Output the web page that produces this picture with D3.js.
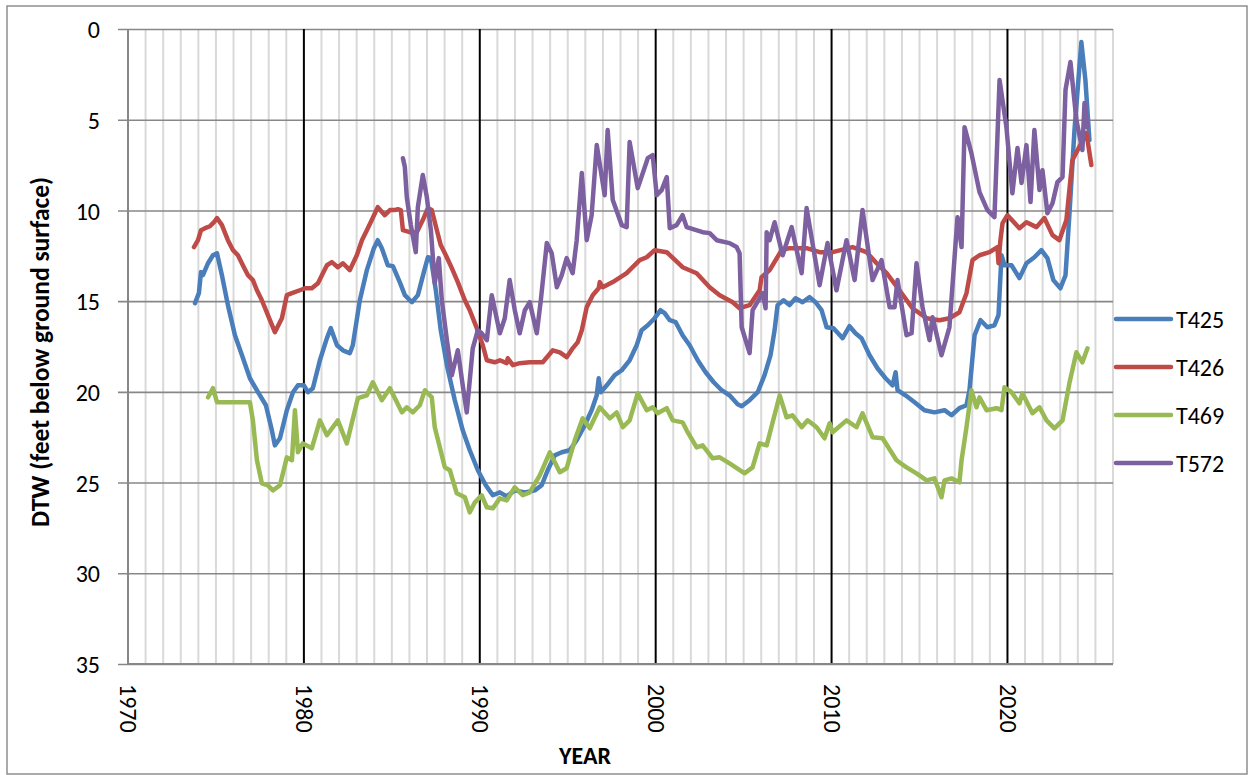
<!DOCTYPE html>
<html><head><meta charset="utf-8">
<script src="https://cdn.jsdelivr.net/npm/d3@7/dist/d3.min.js"></script>
<style>body{margin:0;background:#fff}svg{display:block}text{font-family:Carlito,Calibri,Lato,sans-serif}</style>
</head><body><svg id="c" width="1253" height="775"></svg>
<script>
const seriesNames = ["T425","T426","T469","T572"];
const seriesColors = ["#4A7EBB","#BE4B48","#98B954","#7D60A0"];
const yTicks = [0,5,10,15,20,25,30,35];
const xTicks = [1970,1980,1990,2000,2010,2020];

const T425 = [[1973.81,15.11],[1974.03,14.56],[1974.15,13.4],[1974.26,13.57],[1974.55,12.91],[1974.83,12.47],[1975.06,12.36],[1975.34,13.57],[1975.68,15.22],[1976.08,16.88],[1976.48,17.98],[1976.93,19.25],[1977.39,20.02],[1977.84,20.74],[1978.18,22.12],[1978.35,22.95],[1978.64,22.56],[1979.03,21.01],[1979.38,20.02],[1979.66,19.64],[1980.0,19.64],[1980.23,20.02],[1980.51,19.8],[1980.91,18.26],[1981.31,17.04],[1981.53,16.49],[1981.88,17.43],[1982.22,17.71],[1982.61,17.87],[1982.78,17.43],[1983.18,14.95],[1983.58,13.29],[1983.98,12.08],[1984.2,11.64],[1984.43,12.08],[1984.77,13.02],[1985.06,13.07],[1985.45,13.95],[1985.74,14.67],[1986.14,15.06],[1986.48,14.67],[1986.82,13.4],[1987.05,12.58],[1987.22,12.63],[1987.5,14.4],[1987.78,16.6],[1988.13,18.53],[1988.58,20.46],[1989.03,22.12],[1989.43,23.22],[1989.89,24.32],[1990.34,25.15],[1990.74,25.7],[1991.14,25.54],[1991.53,25.76],[1991.99,25.43],[1992.56,25.54],[1993.13,25.43],[1993.52,25.15],[1993.86,24.32],[1994.26,23.5],[1994.66,23.33],[1995.11,23.22],[1995.51,22.67],[1995.97,21.84],[1996.36,21.01],[1996.65,20.19],[1996.76,19.25],[1996.88,20.02],[1997.22,19.64],[1997.67,19.08],[1998.07,18.81],[1998.52,18.26],[1998.92,17.43],[1999.2,16.6],[1999.55,16.33],[1999.94,15.94],[2000.28,15.5],[2000.51,15.66],[2000.8,16.05],[2001.14,16.16],[2001.53,16.88],[2001.93,17.43],[2002.39,18.26],[2002.84,18.92],[2003.3,19.47],[2003.75,19.91],[2004.2,20.19],[2004.66,20.68],[2004.89,20.79],[2005.34,20.46],[2005.8,20.02],[2006.19,19.08],[2006.53,17.98],[2006.76,16.6],[2006.93,15.22],[2007.27,14.95],[2007.61,15.22],[2007.95,14.84],[2008.35,15.06],[2008.75,14.78],[2009.09,15.06],[2009.43,15.5],[2009.72,16.44],[2010.11,16.49],[2010.63,17.04],[2011.02,16.38],[2011.36,16.77],[2011.7,17.04],[2012.16,17.98],[2012.61,18.7],[2013.07,19.25],[2013.47,19.64],[2013.64,18.92],[2013.75,19.91],[2014.2,20.19],[2014.72,20.57],[2015.28,21.01],[2015.85,21.13],[2016.42,21.01],[2016.82,21.29],[2017.27,20.9],[2017.67,20.74],[2017.84,19.91],[2018.13,16.88],[2018.47,16.05],[2018.86,16.44],[2019.26,16.33],[2019.49,15.77],[2019.66,12.47],[2019.83,13.02],[2020.23,13.02],[2020.68,13.73],[2021.08,12.91],[2021.53,12.58],[2021.93,12.19],[2022.27,12.63],[2022.61,13.84],[2023.01,14.29],[2023.3,13.57],[2023.52,10.26],[2023.81,5.57],[2024.2,0.72],[2024.43,2.81],[2024.66,6.12]];

const T426 = [[1973.75,12.02],[1973.98,11.64],[1974.15,11.09],[1974.38,10.98],[1974.66,10.87],[1974.89,10.65],[1975.06,10.42],[1975.34,10.81],[1975.68,11.64],[1975.97,12.19],[1976.25,12.47],[1976.53,13.02],[1976.82,13.57],[1977.1,13.84],[1977.33,14.4],[1977.61,14.95],[1977.84,15.5],[1978.07,16.05],[1978.35,16.71],[1978.75,15.94],[1979.03,14.67],[1979.32,14.56],[1979.77,14.4],[1980.06,14.29],[1980.45,14.29],[1980.8,14.01],[1981.08,13.46],[1981.31,13.02],[1981.59,12.85],[1981.93,13.13],[1982.22,12.91],[1982.61,13.29],[1983.01,12.47],[1983.3,11.64],[1983.58,11.09],[1983.86,10.53],[1984.2,9.82],[1984.6,10.26],[1984.89,9.98],[1985.17,9.98],[1985.34,9.93],[1985.51,9.98],[1985.63,11.09],[1986.02,11.2],[1986.42,11.2],[1986.76,10.53],[1987.05,9.87],[1987.27,9.98],[1987.56,11.09],[1987.78,11.91],[1988.07,12.47],[1988.41,13.18],[1988.75,13.95],[1989.15,14.95],[1989.43,15.5],[1989.83,16.49],[1990.17,17.43],[1990.4,18.26],[1990.85,18.37],[1991.14,18.26],[1991.53,18.42],[1991.59,18.15],[1991.88,18.53],[1992.27,18.42],[1992.84,18.37],[1993.58,18.37],[1994.15,17.71],[1994.55,17.82],[1994.94,18.09],[1995.28,17.6],[1995.57,17.26],[1995.8,16.6],[1996.08,15.33],[1996.42,14.67],[1996.76,14.29],[1996.82,13.95],[1996.99,14.23],[1997.56,13.95],[1998.35,13.46],[1999.09,12.74],[1999.49,12.58],[1999.94,12.19],[2000.63,12.3],[2001.53,13.13],[2002.33,13.46],[2003.07,14.23],[2003.64,14.67],[2004.38,15.06],[2004.77,15.39],[2005.34,15.22],[2005.91,14.4],[2006.02,13.68],[2006.48,13.29],[2007.16,12.19],[2007.61,12.08],[2008.58,12.08],[2009.32,12.3],[2010.06,12.3],[2011.19,12.02],[2011.99,12.3],[2012.56,12.91],[2013.13,13.46],[2013.86,14.4],[2014.6,15.39],[2015.4,15.94],[2016.14,16.05],[2016.7,15.94],[2017.27,15.61],[2017.67,14.56],[2018.01,12.74],[2018.41,12.47],[2018.98,12.3],[2019.43,12.02],[2019.49,12.91],[2019.6,11.64],[2019.72,10.7],[2020.0,10.26],[2020.68,10.98],[2021.08,10.65],[2021.65,10.92],[2022.1,10.42],[2022.56,11.36],[2022.95,11.64],[2023.35,10.53],[2023.69,7.23],[2024.49,5.74],[2024.77,7.5]];

const T469 = [[1974.55,20.3],[1974.83,19.8],[1975.06,20.57],[1976.93,20.57],[1977.1,21.57],[1977.33,23.77],[1977.61,25.04],[1977.95,25.15],[1978.24,25.43],[1978.64,25.15],[1979.03,23.61],[1979.32,23.77],[1979.49,21.01],[1979.66,23.33],[1979.94,22.84],[1980.45,23.11],[1980.91,21.57],[1981.31,22.39],[1981.93,21.57],[1982.44,22.84],[1983.07,20.35],[1983.58,20.19],[1983.92,19.47],[1984.43,20.46],[1984.89,19.8],[1985.57,21.13],[1985.85,20.85],[1986.19,21.13],[1986.59,20.74],[1986.88,19.91],[1987.27,20.3],[1987.44,21.95],[1987.73,23.06],[1988.01,24.16],[1988.3,24.32],[1988.69,25.59],[1989.15,25.81],[1989.43,26.64],[1989.72,26.09],[1990.11,25.7],[1990.4,26.36],[1990.74,26.42],[1991.14,25.87],[1991.53,25.98],[1991.99,25.26],[1992.44,25.7],[1992.84,25.54],[1993.41,24.6],[1993.98,23.33],[1994.55,24.43],[1994.94,24.21],[1995.4,22.67],[1995.85,21.46],[1996.25,22.01],[1996.82,20.85],[1997.39,21.46],[1997.78,21.13],[1998.13,21.95],[1998.52,21.57],[1998.98,20.08],[1999.49,21.01],[1999.83,20.85],[2000.11,21.18],[2000.63,20.9],[2000.97,21.57],[2001.53,21.68],[2001.76,22.12],[2002.33,23.06],[2002.67,22.95],[2003.24,23.66],[2003.64,23.61],[2004.2,23.94],[2005.06,24.49],[2005.51,24.16],[2005.91,22.84],[2006.31,22.95],[2007.05,20.19],[2007.44,21.4],[2007.78,21.29],[2008.3,21.95],[2008.64,21.57],[2009.15,21.95],[2009.6,22.56],[2009.89,21.73],[2010.06,22.23],[2010.85,21.57],[2011.42,21.95],[2011.76,21.18],[2012.33,22.5],[2012.9,22.56],[2013.69,23.77],[2014.26,24.16],[2014.83,24.49],[2015.4,24.88],[2015.85,24.77],[2016.25,25.81],[2016.42,24.88],[2016.82,24.77],[2017.16,24.93],[2017.27,24.99],[2017.39,23.77],[2017.67,21.95],[2017.95,19.91],[2018.24,20.85],[2018.41,20.3],[2018.81,21.01],[2019.38,20.9],[2019.66,21.01],[2019.83,19.75],[2020.23,20.02],[2020.68,20.63],[2020.85,20.08],[2021.42,21.18],[2021.82,20.85],[2022.22,21.57],[2022.67,22.01],[2023.13,21.57],[2023.52,19.53],[2023.92,17.82],[2024.26,18.37],[2024.55,17.6]];

const T572 = [[1985.63,7.12],[1985.74,7.61],[1985.85,9.27],[1986.08,10.81],[1986.36,12.3],[1986.48,9.82],[1986.76,8.05],[1986.99,9.27],[1987.22,11.09],[1987.44,14.01],[1987.67,12.63],[1987.84,14.95],[1988.13,17.15],[1988.41,19.08],[1988.75,17.71],[1989.03,19.64],[1989.26,21.13],[1989.6,17.6],[1989.89,16.6],[1990.11,16.77],[1990.4,17.15],[1990.68,14.67],[1991.14,16.77],[1991.42,15.94],[1991.7,13.84],[1991.99,15.5],[1992.27,16.77],[1992.56,15.5],[1992.84,15.06],[1993.24,16.77],[1993.47,14.95],[1993.81,11.8],[1994.09,12.36],[1994.38,14.23],[1994.66,13.57],[1994.94,12.63],[1995.28,13.46],[1995.51,11.64],[1995.8,7.94],[1996.08,11.64],[1996.36,10.26],[1996.65,6.4],[1997.1,9.16],[1997.27,5.57],[1997.56,9.43],[1998.07,10.81],[1998.35,10.92],[1998.52,6.23],[1998.98,8.77],[1999.55,7.12],[1999.83,6.95],[2000.06,9.16],[2000.34,8.88],[2000.63,8.16],[2000.8,10.98],[2001.19,10.81],[2001.53,10.26],[2001.76,10.92],[2002.67,11.2],[2003.07,11.25],[2003.47,11.64],[2004.2,11.8],[2004.6,12.02],[2004.77,12.36],[2004.89,16.44],[2005.34,17.87],[2005.51,15.5],[2006.08,14.56],[2006.25,15.39],[2006.31,11.2],[2006.48,11.64],[2006.76,10.65],[2007.22,12.47],[2007.73,10.92],[2008.3,13.46],[2008.58,9.87],[2009.32,14.12],[2009.77,11.8],[2010.28,14.4],[2010.85,11.64],[2011.31,13.84],[2011.76,9.98],[2012.33,13.84],[2012.84,12.74],[2013.3,15.33],[2013.58,15.33],[2013.75,13.84],[2014.26,16.88],[2014.55,16.77],[2014.83,12.91],[2015.17,15.33],[2015.57,17.15],[2015.74,15.89],[2016.25,17.98],[2016.7,16.44],[2017.16,10.37],[2017.39,12.02],[2017.56,5.41],[2017.95,6.84],[2018.41,8.99],[2018.86,9.98],[2019.26,10.37],[2019.55,2.81],[2019.94,5.41],[2020.28,9.05],[2020.57,6.56],[2020.8,8.49],[2021.08,6.4],[2021.31,9.54],[2021.53,5.57],[2021.82,8.88],[2021.99,7.78],[2022.27,10.15],[2022.56,9.6],[2022.84,8.44],[2023.13,8.16],[2023.3,3.36],[2023.58,1.82],[2023.92,5.02],[2024.26,6.67],[2024.38,4.08],[2024.55,5.41]];

const allSeries = [T425, T426, T469, T572];

const svg = d3.select("#c");
const L = 128, R = 1113, T = 29, B = 664;
const x = d3.scaleLinear().domain([1970, 2026]).range([L, R]);
const y = d3.scaleLinear().domain([0, 35]).range([T, B]);

// outer border
svg.append("rect").attr("x",7).attr("y",6).attr("width",1240).attr("height",768)
  .attr("fill","#fff").attr("stroke","#8e8e8e").attr("stroke-width",1.5);

// minor vertical gridlines (each year)
const years = d3.range(1971, 2027).filter(v => v % 10 !== 0);
svg.append("g").selectAll("line").data(years).join("line")
  .attr("x1", d => x(d)).attr("x2", d => x(d)).attr("y1", T).attr("y2", B)
  .attr("stroke", "#d9d9d9").attr("stroke-width", 2);

// horizontal gridlines + y axis
const yAxis = d3.axisLeft(y).tickValues(yTicks).tickSize(R - L + 10).tickPadding(18).tickFormat(d3.format("d"));
const gy = svg.append("g").attr("transform", `translate(${R},0)`).call(yAxis);
gy.select(".domain").remove();
gy.selectAll(".tick line").attr("stroke", "#878787").attr("stroke-width", 1.6);
gy.selectAll(".tick text").attr("font-size", 24).attr("fill", "#000").attr("dy","0.36em");

// major vertical gridlines
svg.append("g").selectAll("line").data(xTicks.filter(d => d > 1970)).join("line")
  .attr("x1", d => x(d)).attr("x2", d => x(d)).attr("y1", T).attr("y2", B)
  .attr("stroke", "#000").attr("stroke-width", 2);

// axes lines
svg.append("line").attr("x1", L).attr("x2", L).attr("y1", T).attr("y2", B).attr("stroke", "#878787").attr("stroke-width", 2);
svg.append("line").attr("x1", L).attr("x2", R).attr("y1", B).attr("y2", B).attr("stroke", "#878787").attr("stroke-width", 2);

// x tick labels (rotated)
const xAxis = d3.axisBottom(x).tickValues(xTicks).tickSize(0).tickFormat(d3.format("d"));
const gx = svg.append("g").attr("transform", `translate(0,${B})`).call(xAxis);
gx.select(".domain").remove();
gx.selectAll(".tick text").attr("font-size", 24).attr("fill", "#000")
  .attr("text-anchor", "start").attr("transform", "rotate(90)")
  .attr("x", 20).attr("y", 0).attr("dy", "0.35em");

// series lines
const line = d3.line().x(d => x(d[0])).y(d => y(d[1]));
svg.append("g").selectAll("path").data(allSeries).join("path")
  .attr("d", line).attr("fill", "none")
  .attr("stroke", (d, i) => seriesColors[i]).attr("stroke-width", 4.5)
  .attr("stroke-linejoin", "round").attr("stroke-linecap", "round");

// axis titles
svg.append("text").attr("x", 585).attr("y", 764).attr("text-anchor", "middle")
  .attr("font-size", 24).attr("font-weight", "bold").text("YEAR");
svg.append("text").attr("transform", "translate(49,352) rotate(-90)").attr("text-anchor", "middle")
  .attr("font-size", 25.5).attr("font-weight", "bold").text("DTW (feet below ground surface)");

// legend
const lg = svg.append("g").selectAll("g").data(seriesNames).join("g")
  .attr("transform", (d, i) => `translate(1116,${319 + i * 48})`);
lg.append("line").attr("x1", 0).attr("x2", 55).attr("y1", 0).attr("y2", 0)
  .attr("stroke", (d, i) => seriesColors[i]).attr("stroke-width", 4.5).attr("stroke-linecap", "round");
lg.append("text").attr("x", 60).attr("y", 0).attr("dy", "0.36em").attr("font-size", 24).text(d => d);
</script></body></html>
